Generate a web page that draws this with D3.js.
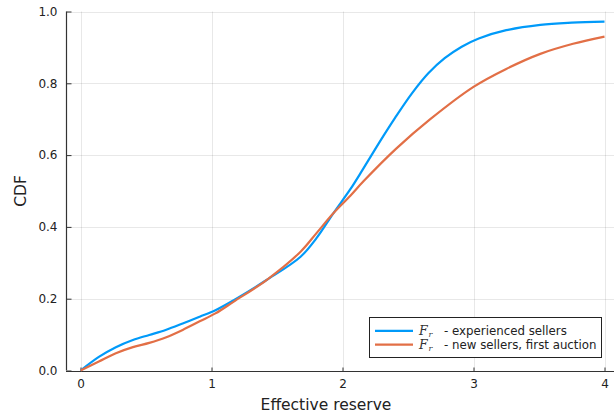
<!DOCTYPE html>
<html>
<head>
<meta charset="utf-8">
<script src="https://cdn.jsdelivr.net/npm/d3@7"></script>
<style>
  html, body { margin: 0; padding: 0; background: #fff; }
  svg { display: block; font-family: "DejaVu Sans", sans-serif; }
</style>
</head>
<body>
<svg id="chart" width="615" height="416"></svg>
<script>
// Effective reserve grid and CDF values for each seller group
const expX = [0, 0.14, 0.27, 0.40, 0.525, 0.65, 0.78, 0.91, 1.03, 1.17, 1.42, 1.68, 1.80, 1.93, 2.06, 2.16, 2.31, 2.40, 2.53, 2.655, 2.78, 2.91, 3.04, 3.25, 3.51, 3.75, 4.0];
const expF = [0, 0.038, 0.065, 0.085, 0.099, 0.113, 0.131, 0.150, 0.168, 0.196, 0.252, 0.317, 0.368, 0.438, 0.505, 0.563, 0.652, 0.703, 0.772, 0.828, 0.870, 0.902, 0.925, 0.948, 0.963, 0.969, 0.972];

const newX = [0, 0.14, 0.27, 0.40, 0.525, 0.65, 0.78, 0.91, 1.03, 1.17, 1.42, 1.68, 1.80, 1.93, 2.06, 2.16, 2.41, 2.67, 3.0, 3.25, 3.51, 3.76, 4.0];
const newF = [0, 0.025, 0.048, 0.065, 0.077, 0.092, 0.113, 0.137, 0.159, 0.192, 0.252, 0.331, 0.382, 0.438, 0.487, 0.527, 0.618, 0.700, 0.790, 0.840, 0.882, 0.910, 0.930];

const xTicks = [0, 1, 2, 3, 4];
const yTicks = [0, 0.2, 0.4, 0.6, 0.8, 1.0];

const seriesNames = ["experienced sellers", "new sellers, first auction"];
const seriesColors = ["#009af9", "#e26f46"];

const svg = d3.select("#chart");

// plot area
const plotL = 66, plotR = 614, plotT = 11.5, plotB = 370.5;
const x = d3.scaleLinear().domain([0, 4]).range([80.5, 604.5]);
const y = d3.scaleLinear().domain([0, 1]).range([plotB, plotT]);

// grid
const grid = svg.append("g").attr("stroke", "#000").attr("stroke-opacity", 0.09).attr("stroke-width", 1);
grid.selectAll(".gx").data(xTicks).join("line")
  .attr("x1", d => Math.round(x(d)) + 0.5).attr("x2", d => Math.round(x(d)) + 0.5)
  .attr("y1", plotT).attr("y2", plotB);
grid.selectAll(".gy").data(yTicks).join("line")
  .attr("x1", plotL).attr("x2", plotR)
  .attr("y1", d => Math.round(y(d)) + 0.5).attr("y2", d => Math.round(y(d)) + 0.5);

// axes
const xAxis = d3.axisBottom(x).tickValues(xTicks).tickFormat(d3.format("d")).tickSize(-4).tickPadding(8);
const yAxis = d3.axisLeft(y).tickValues(yTicks).tickFormat(d3.format(".1f")).tickSize(-5).tickPadding(9);

const gx = svg.append("g").attr("transform", `translate(0,${Math.round(plotB) + 0.5})`).call(xAxis);
gx.select(".domain").attr("d", `M${plotL},0H${plotR}`);
const gy = svg.append("g").attr("transform", `translate(${plotL + 0.5},0)`).call(yAxis);
gy.select(".domain").attr("d", `M0,${plotT}V${plotB}`);

[gx, gy].forEach(g => {
  g.select(".domain").attr("stroke", "#333").attr("stroke-width", 1.2);
  g.selectAll(".tick line").attr("stroke", "#333").attr("stroke-width", 1);
  g.selectAll(".tick text").attr("fill", "#222").attr("font-size", 12).attr("font-family", "DejaVu Sans, sans-serif");
});
// tick marks point into the plot
gy.selectAll(".tick line").attr("x2", 5);
gx.selectAll(".tick line").attr("y2", -4);

// axis titles
svg.append("text").attr("x", 326).attr("y", 410)
  .attr("text-anchor", "middle").attr("font-size", 15.5).attr("fill", "#222")
  .text("Effective reserve");
svg.append("text").attr("transform", `translate(26,${(plotT + plotB) / 2}) rotate(-90)`)
  .attr("text-anchor", "middle").attr("font-size", 15.5).attr("fill", "#222")
  .text("CDF");

// CDF curves
const line = d3.line().x(d => x(d[0])).y(d => y(d[1])).curve(d3.curveCatmullRom.alpha(0.5));
const series = [d3.zip(expX, expF), d3.zip(newX, newF)];
svg.append("g").selectAll("path").data(series).join("path")
  .attr("d", line)
  .attr("fill", "none")
  .attr("stroke", (d, i) => seriesColors[i])
  .attr("stroke-width", 2.2)
  .attr("stroke-linejoin", "round");

// legend
const lg = svg.append("g");
lg.append("rect").attr("x", 369.5).attr("y", 317.5).attr("width", 232).attr("height", 40)
  .attr("fill", "#fff").attr("stroke", "#222").attr("stroke-width", 1);
const rows = lg.selectAll(".row").data(seriesNames).join("g")
  .attr("transform", (d, i) => `translate(0,${330.8 + i * 13.8})`);
rows.append("line").attr("x1", 375).attr("x2", 413).attr("y1", 0).attr("y2", 0)
  .attr("stroke", (d, i) => seriesColors[i]).attr("stroke-width", 2.2);
// math symbol F with subscript r
rows.append("text").attr("x", 419).attr("y", 4.2).attr("font-size", 12.5).attr("fill", "#333")
  .attr("font-family", "DejaVu Serif, serif").attr("font-style", "italic").text("F");
rows.append("text").attr("x", 428.5).attr("y", 6).attr("font-size", 8).attr("fill", "#333")
  .attr("font-family", "DejaVu Serif, serif").attr("font-style", "italic").text("r");
rows.append("text").attr("x", 444).attr("y", 4.2).attr("font-size", 11.8).attr("fill", "#222")
  .text(d => "- " + d);
</script>
</body>
</html>
